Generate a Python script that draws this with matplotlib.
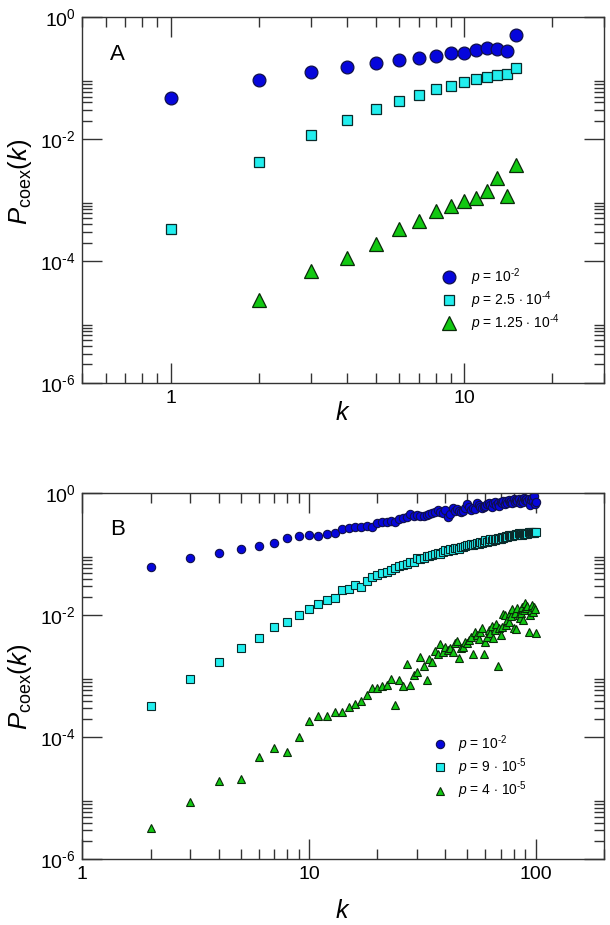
import numpy as np
import matplotlib
matplotlib.use("Agg")
import matplotlib.pyplot as plt
from matplotlib.ticker import FixedLocator, FixedFormatter, LogLocator, NullFormatter

plt.rcParams['font.family'] = 'Liberation Sans'
plt.rcParams['mathtext.fontset'] = 'custom'
plt.rcParams['mathtext.rm'] = 'Liberation Sans'
plt.rcParams['mathtext.it'] = 'Liberation Sans:italic'
plt.rcParams['mathtext.bf'] = 'Liberation Sans:bold'

HY = '\u2010'  # short hyphen for exponents, like the original

# === DATA: panel A ===
kA = np.arange(1, 16)
pA_1e2 = [0.0466, 0.0933, 0.126, 0.155, 0.180, 0.199, 0.215, 0.231, 0.263, 0.263,
          0.290, 0.317, 0.300, 0.280, 0.506]
pA_25e5 = [3.37e-4, 4.24e-3, 0.0115, 0.0205, 0.0311, 0.0427, 0.0535, 0.0655, 0.0753,
           0.0865, 0.0957, 0.103, 0.114, 0.119, 0.149]
kA_tri = np.arange(2, 16)
pA_125e4 = [2.27e-5, 6.93e-5, 1.135e-4, 1.88e-4, 3.33e-4, 4.45e-4, 6.5e-4, 8.07e-4,
            9.64e-4, 1.06e-3, 1.43e-3, 2.3e-3, 1.15e-3, 3.7e-3]

# === DATA: panel B ===
kB = np.arange(2, 101)
pB_1e2 = [0.0617, 0.0866, 0.107, 0.121, 0.138, 0.156, 0.182, 0.198, 0.208, 0.198,
          0.216, 0.227, 0.258, 0.271, 0.278, 0.285, 0.292, 0.285, 0.331, 0.344,
          0.340, 0.353, 0.344, 0.376, 0.390, 0.405, 0.459, 0.426, 0.437, 0.426,
          0.431, 0.442, 0.459, 0.471, 0.495, 0.527, 0.495, 0.471, 0.534, 0.416,
          0.459, 0.569, 0.521, 0.548, 0.508, 0.502, 0.521, 0.569, 0.670, 0.605,
          0.534, 0.583, 0.561, 0.704, 0.637, 0.605, 0.569, 0.605, 0.621, 0.661,
          0.704, 0.644, 0.605, 0.687, 0.722, 0.653, 0.687, 0.621, 0.731, 0.704,
          0.759, 0.661, 0.740, 0.704, 0.778, 0.722, 0.749, 0.687, 0.798, 0.722,
          0.778, 0.740, 0.818, 0.687, 0.759, 0.798, 0.731, 0.828, 0.778, 0.818,
          0.749, 0.798, 0.644, 0.778, 0.839, 0.759, 0.904, 0.670, 0.722]
pB_9e5 = [3.24e-4, 9.1e-4, 1.71e-3, 2.87e-3, 4.3e-3, 6.4e-3, 7.7e-3, 0.0103, 0.0125,
          0.0156, 0.0178, 0.0195, 0.0256, 0.0273, 0.031, 0.029, 0.037, 0.042, 0.046,
          0.050, 0.052, 0.055, 0.060, 0.065, 0.066, 0.070, 0.076, 0.074, 0.087,
          0.085, 0.088, 0.093, 0.095, 0.098, 0.100, 0.105, 0.103, 0.110, 0.119,
          0.112, 0.120, 0.118, 0.125, 0.128, 0.124, 0.132, 0.130, 0.138, 0.143,
          0.140, 0.146, 0.142, 0.150, 0.152, 0.148, 0.158, 0.155, 0.162, 0.173,
          0.160, 0.168, 0.175, 0.165, 0.178, 0.172, 0.180, 0.185, 0.176, 0.180,
          0.190, 0.186, 0.195, 0.200, 0.190, 0.205, 0.198, 0.210, 0.202, 0.210,
          0.208, 0.215, 0.205, 0.220, 0.212, 0.218, 0.210, 0.222, 0.215, 0.216,
          0.225, 0.218, 0.228, 0.220, 0.230, 0.224, 0.232, 0.226, 0.235, 0.228]
pB_4e5 = [3.24e-6, 8.55e-6, 1.89e-5, 2.07e-5, 4.69e-5, 6.76e-5, 5.74e-5, 1.01e-4, 1.83e-4,
          2.21e-4, 2.21e-4, 2.57e-4, 2.57e-4, 3.15e-4, 3.57e-4, 3.95e-4, 4.96e-4, 6.47e-4,
          6.47e-4, 6.9e-4, 7.16e-4, 8.87e-4, 3.44e-4, 8.65e-4, 6.89e-4, 1.62e-3, 7.34e-4,
          1.04e-3, 1.16e-3, 2.04e-3, 1.49e-3, 8.55e-4, 1.89e-3, 1.69e-3, 2.62e-3, 2.28e-3,
          3.33e-3, 2.53e-3, 3.05e-3, 2.69e-3, 2.87e-3, 2.53e-3, 3.47e-3, 3.74e-3, 1.96e-3,
          2.87e-3, 3.05e-3, 3.69e-3, 3.47e-3, 3.93e-3, 4.46e-3, 2.31e-3, 5.39e-3, 4.75e-3,
          4.03e-3, 5.39e-3, 6.11e-3, 2.28e-3, 3.69e-3, 4.46e-3, 5.74e-3, 5.06e-3, 6.68e-3,
          4.19e-3, 5.74e-3, 7.21e-3, 1.47e-3, 6.27e-3, 4.75e-3, 6.52e-3, 1.05e-2, 1.01e-2,
          6.94e-3, 8.38e-3, 7.87e-3, 1.08e-2, 9.75e-3, 1.26e-2, 6.11e-3, 1.11e-2, 5.89e-3,
          1.30e-2, 1.01e-2, 8.93e-3, 1.08e-2, 1.39e-2, 8.38e-3, 1.23e-2, 1.61e-2, 1.30e-2,
          1.42e-2, 5.33e-3, 1.01e-2, 1.23e-2, 1.48e-2, 1.15e-2, 1.39e-2, 1.26e-2, 5.19e-3]

labelsA = [r'$p$ = 10$^{' + HY + '2}$', r'$p$ = 2.5 $\cdot$ 10$^{' + HY + '4}$',
           r'$p$ = 1.25 $\cdot$ 10$^{' + HY + '4}$']
labelsB = [r'$p$ = 10$^{' + HY + '2}$', r'$p$ = 9 $\cdot$ 10$^{' + HY + '5}$',
           r'$p$ = 4 $\cdot$ 10$^{' + HY + '5}$']

BLUE, CYAN, GREEN = '#0606DC', '#22EEEE', '#12C812'
EDGE = '#10104a'

yticks = [1e-6, 1e-4, 1e-2, 1]
ylabels = ['10$^{' + HY + '6}$', '10$^{' + HY + '4}$', '10$^{' + HY + '2}$', '10$^{0}$']
yminor = [m * 10.0 ** e for e in (-6, -4, -2) for m in range(2, 10)]

fig = plt.figure(figsize=(6.1, 9.25), dpi=100)
axA = fig.add_axes([0.135, 0.5863, 0.855, 0.395])
axB = fig.add_axes([0.135, 0.0710, 0.855, 0.3957])


def style(ax, xmajor, xlabels, xpad, ypos):
    ax.set_xscale('log')
    ax.set_yscale('log')
    ax.set_ylim(1e-6, 1)
    ax.yaxis.set_major_locator(FixedLocator(yticks))
    ax.yaxis.set_major_formatter(FixedFormatter(ylabels))
    ax.yaxis.set_minor_locator(FixedLocator(yminor))
    ax.yaxis.set_minor_formatter(NullFormatter())
    ax.xaxis.set_major_locator(FixedLocator(xmajor))
    ax.xaxis.set_major_formatter(FixedFormatter(xlabels))
    ax.xaxis.set_minor_locator(LogLocator(base=10, subs=np.arange(2, 10)))
    ax.xaxis.set_minor_formatter(NullFormatter())
    ax.tick_params(which='both', direction='in', top=True, right=True,
                   color='#333333', width=1.0, labelsize=14)
    ax.tick_params(which='major', length=14.5, pad=5)
    ax.tick_params(which='minor', length=7.2)
    for s in ax.spines.values():
        s.set_linewidth(1.0)
        s.set_color('#333333')
    ax.set_xlabel(r'$k$', fontsize=18, labelpad=xpad)
    ax.set_ylabel(r'$P_{\mathrm{coex}}(k)$', fontsize=18.5, labelpad=4, y=ypos)


# --- panel A ---
axA.plot(kA, pA_1e2, 'o', ms=9.2, mfc=BLUE, mec=EDGE, mew=0.9, ls='none', label=labelsA[0])
axA.plot(kA, pA_25e5, 's', ms=7.9, mfc=CYAN, mec='#0a2a2a', mew=0.9, ls='none', label=labelsA[1])
axA.plot(kA_tri, pA_125e4, '^', ms=9.5, mfc=GREEN, mec='#0a2a0a', mew=0.9, ls='none', label=labelsA[2])
axA.set_xlim(0.5, 30)
style(axA, [1, 10], ['1', '10'], -4, 0.55)
axA.text(0.053, 0.897, 'A', transform=axA.transAxes, fontsize=16, va='center')
axA.legend(loc='upper left', bbox_to_anchor=(0.69, 0.318), frameon=False, fontsize=10,
           handlelength=1.0, handletextpad=1.05, labelspacing=0.08, borderpad=0,
           borderaxespad=0, numpoints=1)

# --- panel B ---
axB.plot(kB, pB_1e2, 'o', ms=6.0, mfc=BLUE, mec=EDGE, mew=0.8, ls='none', label=labelsB[0])
axB.plot(kB, pB_9e5, 's', ms=5.3, mfc=CYAN, mec='#0a2a2a', mew=0.8, ls='none', label=labelsB[1])
axB.plot(kB, pB_4e5, '^', ms=6.2, mfc=GREEN, mec='#0a2a0a', mew=0.8, ls='none', label=labelsB[2])
axB.set_xlim(1, 200)
style(axB, [1, 10, 100], ['1', '10', '100'], 11, 0.47)
axB.text(0.053, 0.90, 'B', transform=axB.transAxes, fontsize=16, va='center')
axB.legend(loc='upper left', bbox_to_anchor=(0.672, 0.345), frameon=False, fontsize=10,
           handlelength=1.0, handletextpad=0.8, labelspacing=0.13, borderpad=0,
           borderaxespad=0, numpoints=1)

fig.savefig('out.png', dpi=100)
